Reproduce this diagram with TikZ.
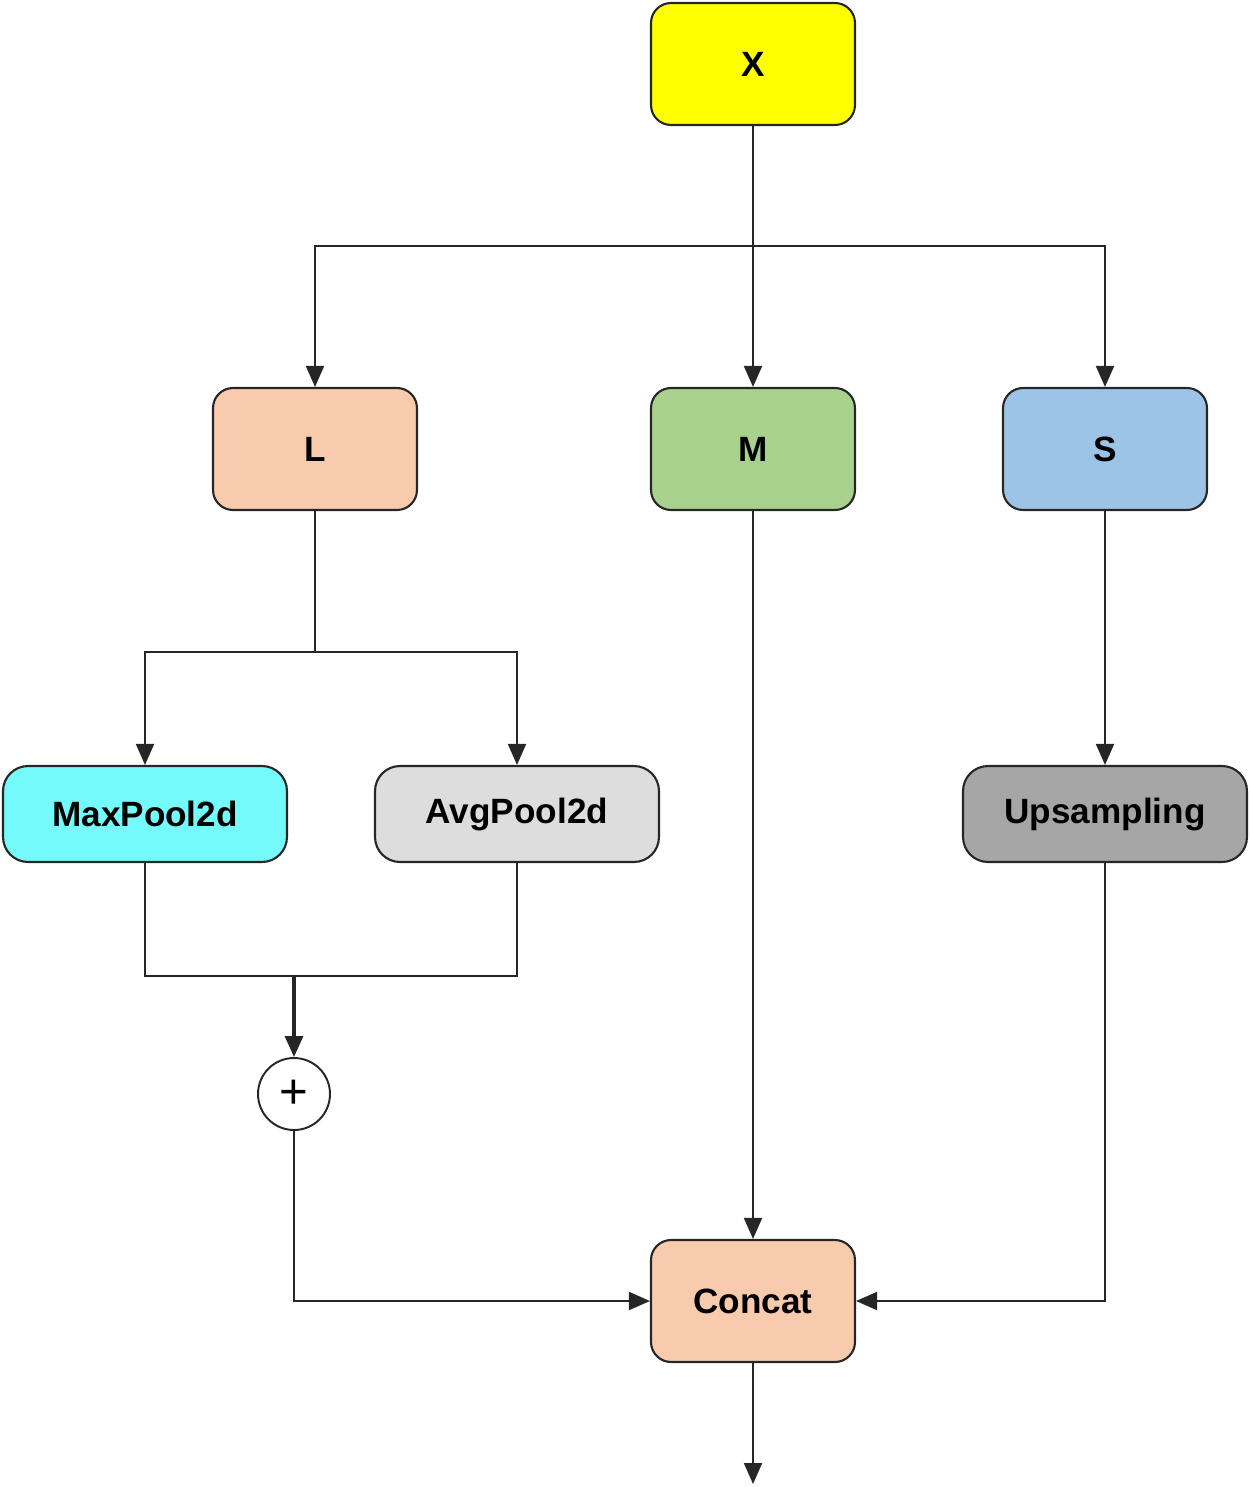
\documentclass[tikz,border=0pt]{standalone}
\usepackage{fontspec}
\setmainfont{Liberation Sans}
\usetikzlibrary{arrows.meta}
\definecolor{cX}{HTML}{FFFF00}
\definecolor{cPeach}{HTML}{F8CBAD}
\definecolor{cGreen}{HTML}{A9D18E}
\definecolor{cBlue}{HTML}{9DC3E6}
\definecolor{cCyan}{HTML}{75FAFC}
\definecolor{cLight}{HTML}{DDDDDD}
\definecolor{cGray}{HTML}{A6A6A6}
\tikzset{
  box/.style={draw=black!85, line width=1.2pt, rounded corners=0.4cm, minimum width=4.08cm, minimum height=2.44cm, font=\fontsize{20}{24}\selectfont\bfseries, inner sep=0pt},
  wbox/.style={draw=black!85, line width=1.2pt, rounded corners=0.5cm, minimum width=5.68cm, minimum height=1.92cm, font=\fontsize{20}{24}\selectfont\bfseries, inner sep=0pt},
  conn/.style={draw=black!85, line width=1.1pt},
  arr/.style={conn, -{Triangle[length=0.42cm,width=0.36cm]}},
  plusnode/.style={circle, draw=black!85, line width=1.1pt, minimum size=1.44cm, inner sep=0pt, font=\fontsize{28}{30}\selectfont}
}
\begin{document}
\begin{tikzpicture}[x=0.02cm,y=-0.02cm]
\useasboundingbox (0,0) rectangle (1250,1487);
\node[box, fill=cX] (X) at (753,64) {X};
\node[box, fill=cPeach] (L) at (315,449) {L};
\node[box, fill=cGreen] (M) at (753,449) {M};
\node[box, fill=cBlue] (S) at (1105,449) {S};
\node[wbox, fill=cCyan] (MP) at (145,814) {MaxPool2d};
\node[wbox, fill=cLight] (AP) at (517,814) {AvgPool2d};
\node[wbox, fill=cGray] (UP) at (1105,814) {Upsampling};
\node[plusnode, fill=white] (plus) at (294,1094) {+};
\node[box, fill=cPeach] (C) at (753,1301) {Concat};
\coordinate (j1) at (753,246);
\coordinate (j2) at (315,652);
\coordinate (j3) at (294,976);
\coordinate (out) at (753,1484);
\draw[conn] (X.south) -- (j1);
\draw[arr] (j1) -| (L.north);
\draw[arr] (j1) -| (S.north);
\draw[arr] (j1) -- (M.north);
\draw[conn] (L.south) -- (j2);
\draw[arr] (j2) -| (MP.north);
\draw[arr] (j2) -| (AP.north);
\draw[conn] (MP.south) |- (j3);
\draw[conn] (AP.south) |- (j3);
\draw[arr, line width=1.8pt] (j3) -- (plus.north);
\draw[arr] (plus.south) |- (C.west);
\draw[arr] (M.south) -- (C.north);
\draw[arr] (S.south) -- (UP.north);
\draw[arr] (UP.south) |- (C.east);
\draw[arr] (C.south) -- (out);
\end{tikzpicture}
\end{document}
